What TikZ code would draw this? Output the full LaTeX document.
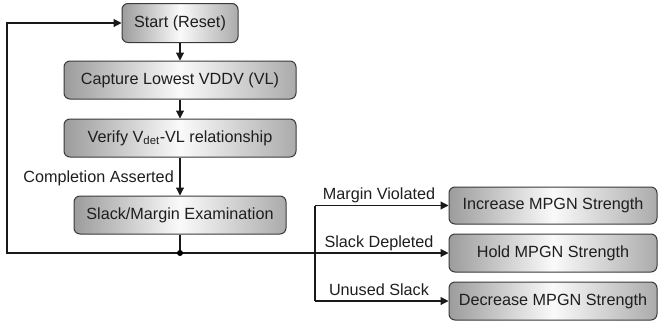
\documentclass[tikz,border=0pt]{standalone}
\usepackage{fontspec}
\setmainfont{Liberation Sans}
\usetikzlibrary{arrows.meta,calc}
\definecolor{boxline}{HTML}{3A3A3A}
\definecolor{txt}{HTML}{1E1E1E}
\definecolor{shadeL}{HTML}{9C9C9C}
\definecolor{shadeR}{HTML}{ABABAB}
\begin{document}
\begin{tikzpicture}[x=1pt,y=-1pt,
  font=\fontsize{16.2}{19}\selectfont,
  stepbox/.style={draw=boxline, line width=1pt, rounded corners=6pt,
    left color=shadeL, right color=shadeR, middle color=white!96!gray,
    text=txt, inner sep=0pt, minimum height=38pt, anchor=center},
  conn/.style={line width=1.1pt, draw=black!90},
  arr/.style={conn, -{Triangle[length=8pt,width=8pt]}},
  lbl/.style={text=txt, inner sep=0pt, anchor=base}]
\useasboundingbox (0,0) rectangle (659,322);

\node[stepbox, minimum width=116pt, minimum height=39pt] (start) at (180,23) {Start (Reset)};
\node[stepbox, minimum width=232pt] (capture) at (180,80) {Capture Lowest VDDV (VL)};
\node[stepbox, minimum width=232pt] (verify) at (180,138) {Verify V\textsubscript{det}-VL relationship};
\node[stepbox, minimum width=212pt] (slack) at (180,215) {Slack/Margin Examination};

\node[stepbox, minimum width=208pt, minimum height=37pt] (inc) at (553,205.5) {Increase MPGN Strength};
\node[stepbox, minimum width=208pt] (hold) at (553,253) {Hold MPGN Strength};
\node[stepbox, minimum width=208pt] (dec) at (553,301) {Decrease MPGN Strength};

\coordinate (junc) at (180,253);
\coordinate (loopB) at (7,253);
\coordinate (loopT) at (7,23);
\coordinate (brT) at (315,205.5);
\coordinate (brB) at (315,301);

\draw[arr] (start) -- (capture);
\draw[arr] (capture) -- (verify);
\draw[arr] (verify) -- (slack);
\draw[conn] (slack) -- (junc);
\draw[arr] (junc) -- (loopB) -- (loopT) -- (start.west);
\draw[arr] (junc) -- (hold.west);
\draw[conn] (brT) -- (brB);
\draw[arr] (brT) -- (inc.west);
\draw[arr] (brB) -- (dec.west);
\fill[black] (junc) circle (3pt);

\node[lbl, anchor=base east] (compl) at (174,182) {Completion Asserted};
\node[lbl] (mv) at (379,199.5) {Margin Violated};
\node[lbl] (sd) at (379,247) {Slack Depleted};
\node[lbl] (us) at (379,295) {Unused Slack};
\end{tikzpicture}
\end{document}
